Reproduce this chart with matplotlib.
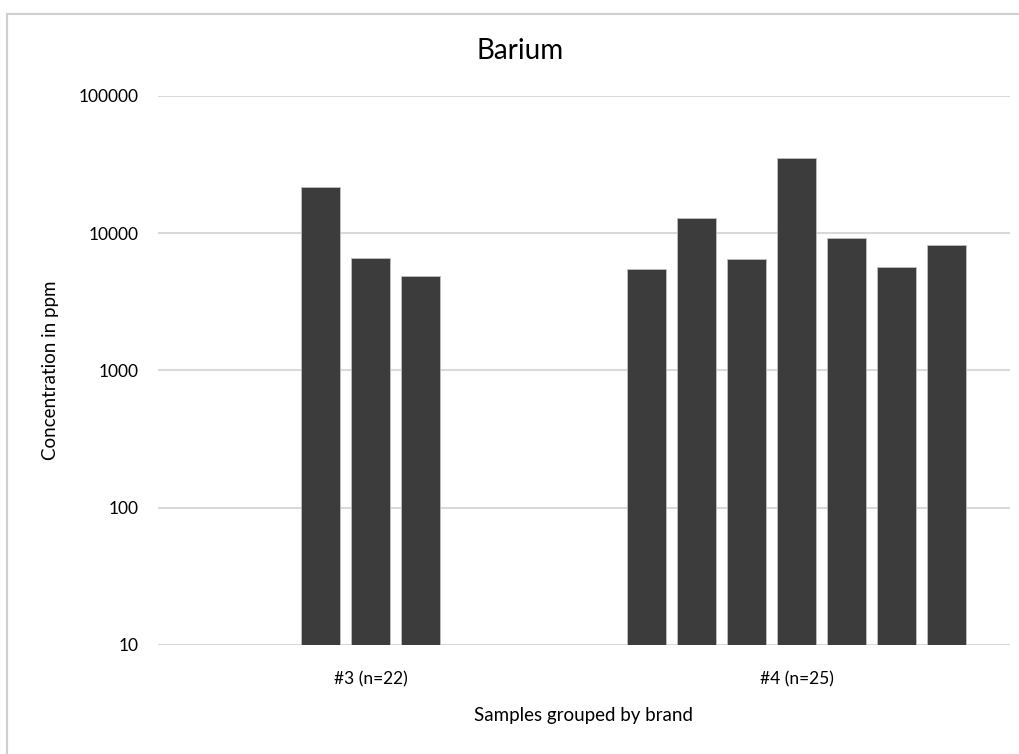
import matplotlib
matplotlib.use("Agg")
import matplotlib.pyplot as plt
import numpy as np
from matplotlib.patches import Rectangle

plt.rcParams['font.family'] = ['Lato', 'DejaVu Sans']

categories = ["#3 (n=22)", "#4 (n=25)"]
brand3_values = [21700, 6550, 4840]
brand4_values = [5450, 12880, 6440, 35400, 9210, 5690, 8150]
groups = [brand3_values, brand4_values]

title = "Barium"
xlabel = "Samples grouped by brand"
ylabel = "Concentration in ppm"
yticks = [10, 100, 1000, 10000, 100000]
ytick_labels = ["10", "100", "1000", "10000", "100000"]

fig = plt.figure(figsize=(10.19, 7.54), dpi=100)
ax = fig.add_axes([0.155, 0.1446, 0.836, 0.7285])

slot = 50 / 426
width = 39 / 426
for ci, vals in enumerate(groups):
    n = len(vals)
    xs = ci + (np.arange(n) - (n - 1) / 2) * slot
    ax.bar(xs, np.array(vals) - 10, bottom=10, width=width,
           color="#3c3c3c", edgecolor="#bfbfbf", linewidth=0.6, zorder=3)

ax.set_yscale("log")
ax.set_ylim(10, 100000)
ax.set_xlim(-0.5, 1.5)
ax.set_yticks(yticks)
ax.set_yticklabels(ytick_labels)
ax.minorticks_off()
ax.set_xticks(range(len(categories)))
ax.set_xticklabels(categories)
ax.tick_params(axis="both", length=0, labelsize=12.5, colors="#000000")
ax.tick_params(axis="y", pad=14)
ax.tick_params(axis="x", pad=19)
ax.yaxis.grid(True, color="#d9d9d9", linewidth=1.5, zorder=0)
ax.set_axisbelow(True)
for s in ax.spines.values():
    s.set_visible(False)

ax.set_xlabel(xlabel, fontsize=13.5, labelpad=14)
ax.set_ylabel(ylabel, fontsize=13.5, labelpad=14)
fig.text(0.51, 0.933, title, ha="center", va="center", fontsize=20)

# chart border
fig.patches.append(Rectangle((7 / 1019, -0.05), 1.1, 1 - 14 / 754 + 0.05,
                             transform=fig.transFigure, fill=False,
                             edgecolor="#d0d0d0", linewidth=1.5))

fig.savefig("out.png", dpi=100)
